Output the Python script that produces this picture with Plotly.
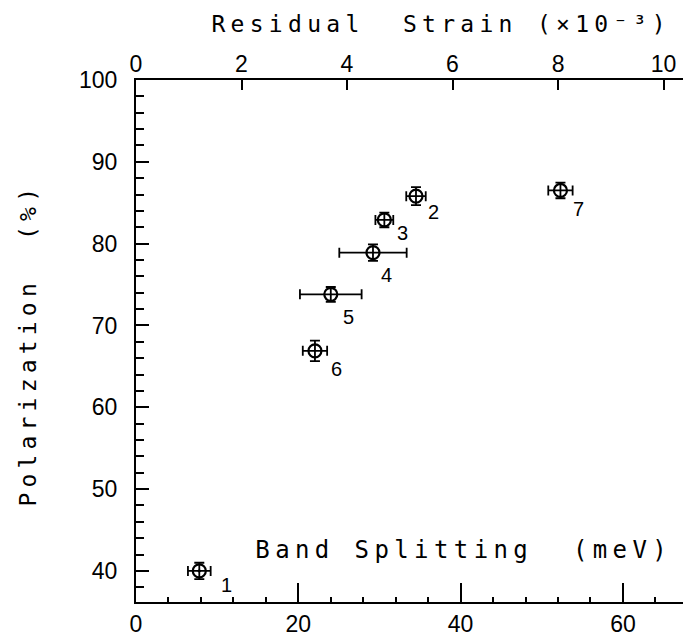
import plotly.graph_objects as go

# ---- data ----
band_splitting = [7.8, 34.5, 30.6, 29.2, 24.0, 22.05, 52.3]      # meV
polarization   = [40.0, 85.8, 82.9, 78.9, 73.8, 66.9, 86.5]      # %
band_err       = [1.4, 1.2, 1.1, 4.15, 3.8, 1.5, 1.5]
pol_err        = [1.0, 1.1, 0.9, 1.0, 0.9, 1.25, 0.95]
sample_labels  = ["1", "2", "3", "4", "5", "6", "7"]

x_ticks      = [0, 20, 40, 60]
y_ticks      = [40, 50, 60, 70, 80, 90, 100]
strain_ticks = [0, 2, 4, 6, 8, 10]
mev_per_strain = 6.5          # band splitting (meV) per 1e-3 strain
x_max = 67.4
y_min, y_max = 36.2, 100

# label offsets (px) for the sample numbers
label_dx = [27, 18, 18, 14, 18, 22, 18]
label_dy = [14, 16, 13, 22, 23, 18, 19]

symbols = ["circle-open-dot"] + ["circle-open"] * 6

title_font = dict(family="DejaVu Sans Mono", size=23, color="black")
tick_font = dict(family="Liberation Sans", size=23, color="black")

fig = go.Figure()
fig.add_trace(go.Scatter(
    x=band_splitting, y=polarization, mode="markers",
    marker=dict(symbol=symbols, size=13, color="black",
                line=dict(width=2.2, color="black")),
    error_x=dict(type="data", array=band_err, color="black", thickness=1.8, width=5),
    error_y=dict(type="data", array=pol_err, color="black", thickness=1.8, width=5),
    showlegend=False, hoverinfo="x+y",
))
# invisible companion trace so that the top (strain) axis is drawn
fig.add_trace(go.Scatter(
    x=[b / mev_per_strain for b in band_splitting], y=polarization,
    xaxis="x2", mode="markers", marker=dict(opacity=0),
    showlegend=False, hoverinfo="skip",
))

annotations = [
    dict(text="Residual  Strain (×10⁻³)", xref="paper", yref="paper",
         x=0.5585, y=1.108, xanchor="center", yanchor="middle", showarrow=False,
         font=title_font),
    dict(text="Polarization  (%)", xref="paper", yref="paper",
         x=-0.197, y=0.492, xanchor="center", yanchor="middle", showarrow=False,
         textangle=-90, font=title_font),
    dict(text="Band Splitting  (meV)", xref="paper", yref="paper",
         x=0.599, y=0.099, xanchor="center", yanchor="middle", showarrow=False,
         font=dict(family="DejaVu Sans Mono", size=24, color="black")),
]
for xv, yv, lab, dx, dy in zip(band_splitting, polarization, sample_labels, label_dx, label_dy):
    annotations.append(dict(text=lab, x=xv, y=yv, xref="x", yref="y", showarrow=False,
                            xshift=dx, yshift=-dy,
                            font=dict(family="Liberation Sans", size=20, color="black")))

axis_common = dict(showline=True, linewidth=2, linecolor="black", ticks="inside",
                   tickcolor="black", tickwidth=2, showgrid=False, zeroline=False,
                   tickfont=tick_font, mirror=False)

fig.update_layout(
    width=683, height=644,
    margin=dict(l=136, r=0, t=80, b=42),
    paper_bgcolor="white", plot_bgcolor="white",
    xaxis=dict(range=[0, x_max], tickvals=x_ticks, ticklen=19,
               minor=dict(dtick=4, ticklen=5, ticks="inside", tickcolor="black", tickwidth=1.5),
               ticklabelstandoff=0, **axis_common),
    xaxis2=dict(range=[0, x_max / mev_per_strain], tickvals=strain_ticks, ticklen=10,
                overlaying="x", side="top", anchor="y", ticklabelstandoff=-3,
                **axis_common),
    yaxis=dict(range=[y_min, y_max], tickvals=y_ticks, ticklen=13,
               minor=dict(dtick=2, ticklen=8, ticks="inside", tickcolor="black", tickwidth=1.5),
               ticklabelstandoff=12, **axis_common),
    annotations=annotations,
)

post = """
document.body.style.margin = '0';
document.body.style.padding = '0';
var gd = document.getElementById('{plot_id}');
function applySpacing(){
  var sp = {'0':'5.3px','1':'5.2px','2':'5.4px'};
  gd.querySelectorAll('g.annotation').forEach(function(g){
    var i = g.getAttribute('data-index');
    if (sp[i]) { var t = g.querySelector('text.annotation-text'); if (t) t.style.letterSpacing = sp[i]; }
  });
}
applySpacing();
if (gd.on) gd.on('plotly_afterplot', applySpacing);
"""

fig.write_html("out.html", post_script=post, config={"displayModeBar": False})
